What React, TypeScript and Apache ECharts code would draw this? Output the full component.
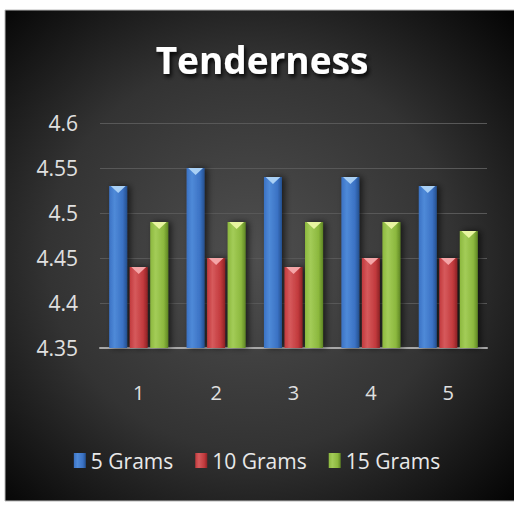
import React, { useEffect, useRef } from "react";
import * as echarts from "echarts";

const categories = ["1", "2", "3", "4", "5"];
const grams5 = [4.53, 4.55, 4.54, 4.54, 4.53];
const grams10 = [4.44, 4.45, 4.44, 4.45, 4.45];
const grams15 = [4.49, 4.49, 4.49, 4.49, 4.48];
const seriesNames = ["5 Grams", "10 Grams", "15 Grams"];
const yMin = 4.35;
const yMax = 4.6;
const yStep = 0.05;

const FONT = "'Open Sans', 'DejaVu Sans', sans-serif";

function grad(dark: string, mid: string, light: string) {
  return new echarts.graphic.LinearGradient(0, 0, 1, 0, [
    { offset: 0, color: mid },
    { offset: 0.3, color: light },
    { offset: 0.75, color: mid },
    { offset: 1, color: dark },
  ]);
}

export default function App() {
  const ref = useRef<HTMLDivElement>(null);
  useEffect(() => {
    if (!ref.current) return;
    const chart = echarts.init(ref.current, undefined, { renderer: "svg" });
    const palettes = [
      { dark: "#24508f", mid: "#3b72c4", light: "#4f8ad8", tip: "#a9d0f5" },
      { dark: "#8e2225", mid: "#c23a3d", light: "#d65a5c", tip: "#f4a5a7" },
      { dark: "#5f8624", mid: "#8cb83e", light: "#a3cc58", tip: "#e8f5a0" },
    ];
    const datas = [grams5, grams10, grams15];
    const barW = 18;
    const gap = "14%";
    const bars: any[] = datas.map((d, i) => ({
      type: "bar",
      name: seriesNames[i],
      data: d,
      barWidth: barW,
      barGap: gap,
      z: 2,
      itemStyle: {
        color: grad(palettes[i].dark, palettes[i].mid, palettes[i].light),
        shadowColor: "rgba(0,0,0,0.6)",
        shadowBlur: 6,
        shadowOffsetX: 3,
        shadowOffsetY: 0,
      },
    }));
    const tips: any[] = datas.map((d, i) => ({
      type: "pictorialBar",
      name: seriesNames[i] + " tip",
      data: d,
      barWidth: barW,
      barGap: gap,
      symbol: "triangle",
      symbolRotate: 180,
      symbolSize: [15, 7],
      symbolPosition: "end",
      symbolOffset: [0, 0],
      z: 5,
      silent: true,
      itemStyle: { color: palettes[i].tip },
    }));
    chart.setOption({
      animation: false,
      textStyle: { fontFamily: FONT },
      graphic: [
        {
          type: "rect",
          z: -100,
          silent: true,
          shape: { x: 5, y: 10, width: 512, height: 491 },
          style: {
            fill: {
              type: "radial",
              x: 0.48,
              y: 0.5,
              r: 0.72,
              colorStops: [
                { offset: 0, color: "#4f4f4f" },
                { offset: 0.55, color: "#333333" },
                { offset: 1, color: "#030303" },
              ],
            },
            stroke: "#b8b8b8",
            lineWidth: 1,
          },
        },
      ],
      title: {
        text: "Tenderness",
        left: 257,
        textAlign: "center",
        top: 36,
        textStyle: {
          color: "#ffffff",
          fontSize: 37,
          fontWeight: "bold",
          fontFamily: FONT,
          textShadowColor: "rgba(0,0,0,0.9)",
          textShadowBlur: 4,
          textShadowOffsetX: 2,
          textShadowOffsetY: 3,
        },
      },
      grid: { left: 100, right: 27, top: 123, bottom: 158, containLabel: false },
      legend: {
        data: seriesNames,
        bottom: 30,
        left: "center",
        itemWidth: 12,
        itemHeight: 15,
        itemGap: 22,
        icon: "rect",
        textStyle: { color: "#e8e8e8", fontSize: 21, fontFamily: FONT },
      },
      xAxis: {
        type: "category",
        data: categories,
        axisLine: { lineStyle: { color: "#a8a8a8", width: 2 } },
        axisTick: { show: false },
        axisLabel: { color: "#e0e0e0", fontSize: 20, margin: 34, fontFamily: FONT },
      },
      yAxis: {
        type: "value",
        min: yMin,
        max: yMax,
        interval: yStep,
        axisLine: { show: false },
        axisTick: { show: false },
        splitLine: { lineStyle: { color: "#585858", width: 1 } },
        axisLabel: {
          color: "#e0e0e0",
          fontSize: 21,
          margin: 22,
          fontFamily: FONT,
          formatter: (v: number) => String(+v.toFixed(2)),
        },
      },
      series: [...bars, ...tips],
    });
    return () => chart.dispose();
  }, []);
  return (
    <div
      ref={ref}
      style={{ position: "absolute", left: 0, top: 0, width: 514, height: 506, background: "#ffffff" }}
    />
  );
}
